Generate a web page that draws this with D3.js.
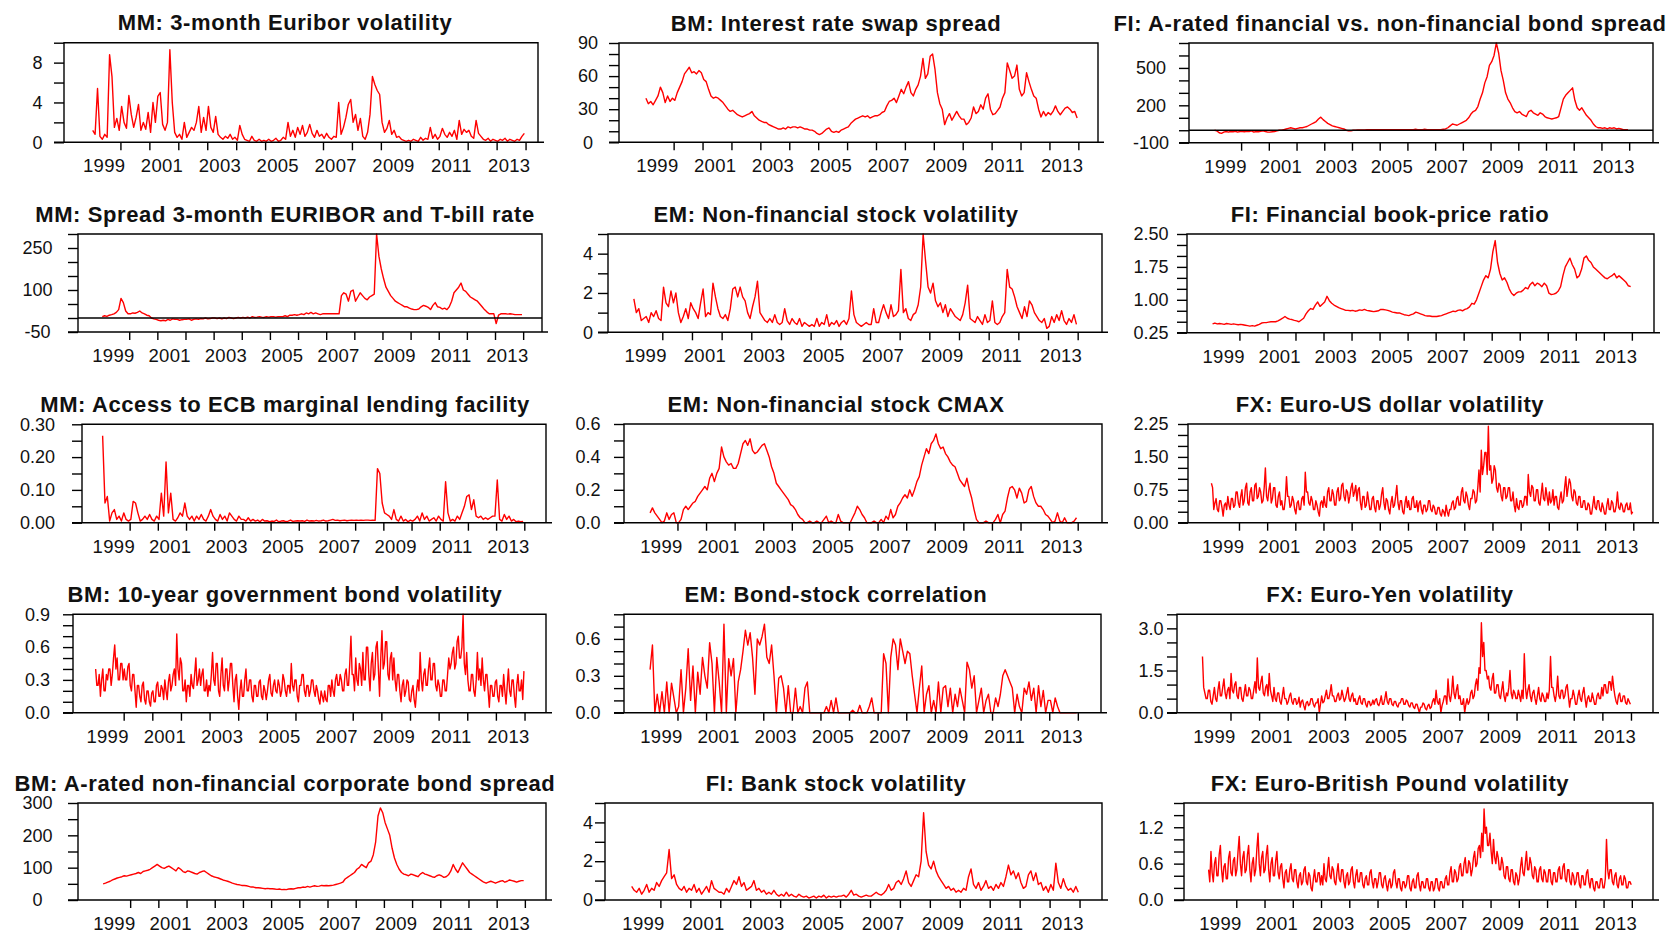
<!DOCTYPE html>
<html>
<head>
<meta charset="utf-8">
<script src="https://cdn.jsdelivr.net/npm/d3@7"></script>
<style>
  body { margin: 0; background: #fff; }
  svg { display: block; }
  text { font-family: "Liberation Sans", Arial, sans-serif; fill: #111; }
  .title { font-weight: bold; font-size: 22px; letter-spacing: 0.6px; }
  .ylab .tick text { font-size: 18px; }
  .xlab .tick text { font-size: 18.5px; letter-spacing: 0.3px; }
</style>
</head>
<body>
<svg id="chart"></svg>
<script>
// observations run Jan 1999 .. Dec 2013 (monthly, or twice a month for the noisier ones)
const startYear = 1999
const nYears = 15
const tickYears = d3.range(2000, 2015)
const labelYears = [1999, 2001, 2003, 2005, 2007, 2009, 2011, 2013]

const titles = [
  'MM: 3-month Euribor volatility',
  'BM: Interest rate swap spread',
  'FI: A-rated financial vs. non-financial bond spread',
  'MM: Spread 3-month EURIBOR and T-bill rate',
  'EM: Non-financial stock volatility',
  'FI: Financial book-price ratio',
  'MM: Access to ECB marginal lending facility',
  'EM: Non-financial stock CMAX',
  'FX: Euro-US dollar volatility',
  'BM: 10-year government bond volatility',
  'EM: Bond-stock correlation',
  'FX: Euro-Yen volatility',
  'BM: A-rated non-financial corporate bond spread',
  'FI: Bank stock volatility',
  'FX: Euro-British Pound volatility'
]

const euriborVol = [
  1.2, 0.8, 5.4, 0.6, 0.3, 0.8, 0.5, 8.8, 6.6, 1.5, 2.4, 1.2,
  3.6, 2.0, 1.4, 4.7, 2.8, 1.5, 2.5, 3.8, 1.2, 2.0, 1.3, 3.0,
  1.0, 4.0, 2.0, 4.6, 5.0, 1.8, 1.2, 2.0, 9.3, 4.0, 1.0, 0.5,
  0.8, 0.3, 2.0, 0.5, 1.0, 1.5, 1.2, 2.0, 3.6, 1.0, 2.5, 1.2,
  3.6, 1.5, 1.0, 2.6, 0.8, 0.5, 0.3, 0.6, 0.4, 0.8, 0.3, 0.5,
  0.2, 1.7, 0.8, 0.3, 0.2, 0.1, 0.6, 0.2, 0.1, 0.3, 0.1, 0.2,
  0.1, 0.3, 0.1, 0.2, 0.4, 0.1, 0.2, 0.5, 0.3, 2.0, 0.6, 1.2,
  0.5, 1.5, 0.8, 1.7, 0.6, 1.0, 1.8, 0.9, 0.5, 1.2, 0.6, 0.8,
  0.4, 0.9, 0.5, 0.3, 0.6, 0.5, 4.0, 0.8, 1.5, 2.5, 3.8, 4.3,
  2.0, 2.8, 1.2, 2.4, 0.6, 0.3, 1.0, 2.8, 6.6, 5.8, 5.2, 4.8,
  2.0, 1.0, 1.4, 2.2, 0.8, 1.2, 0.5, 0.6, 0.3, 0.2, 0.1, 0.2,
  0.1, 0.3, 0.2, 0.1, 0.5, 0.2, 0.4, 0.3, 1.5, 0.4, 0.8, 0.3,
  0.6, 1.4, 0.8, 0.5, 1.0, 0.6, 1.2, 0.3, 2.2, 0.8, 1.3, 1.0,
  1.2, 0.6, 0.4, 2.2, 0.9, 0.6, 0.3, 0.2, 0.4, 0.1, 0.3, 0.2,
  0.1, 0.3, 0.2, 0.4, 0.1, 0.3, 0.2, 0.1, 0.3, 0.2, 0.6, 0.9
]

const swapSpread = [
  40, 35, 37, 34, 38, 42, 50, 45, 36, 42, 37, 40,
  38, 45, 50, 55, 62, 65, 68, 63, 64, 62, 65, 63,
  57, 55, 48, 42, 40, 41, 40, 38, 36, 33, 30, 28,
  29, 27, 25, 24, 23, 24, 25, 26, 28, 24, 22, 20,
  19, 18, 18, 16, 15, 14, 13, 12, 12, 13, 12, 14,
  13, 14, 14, 13, 14, 13, 12, 12, 11, 11, 10, 8,
  7, 8, 10, 12, 13, 10, 9, 10, 9, 11, 12, 13,
  14, 17, 19, 21, 22, 23, 24, 23, 24, 22, 23, 24,
  24, 25, 27, 28, 33, 37, 38, 40, 36, 42, 48, 44,
  50, 55, 45, 42, 48, 52, 60, 76, 58, 62, 78, 80,
  66, 45, 35, 30, 16, 22, 26, 20, 24, 28, 24, 21,
  21, 16, 18, 22, 32, 26, 28, 34, 30, 40, 44, 30,
  25, 26, 29, 32, 40, 45, 72, 65, 58, 60, 70, 48,
  42, 45, 63, 55, 48, 42, 40, 30, 23, 28, 24, 27,
  25, 28, 33, 28, 25, 28, 31, 32, 30, 27, 28, 22
]

const finBondSpread = [
  0, -5, -20, -25, -15, -10, -15, -10, -12, -8, -15, -10,
  -10, -12, -8, -10, -5, -15, -10, -12, -8, -5, -10, -15,
  -15, -12, -10, -5, 0, 0, 5, 10, 15, 20, 15, 10,
  15, 20, 20, 25, 30, 40, 50, 60, 70, 90, 105, 85,
  70, 55, 45, 35, 30, 25, 20, 15, 10, 0, -5, -5,
  0, 0, 2, 3, 2, 3, 5, 5, 5, 5, 5, 5,
  5, 5, 5, 5, 5, 5, 5, 5, 5, 5, 5, 5,
  5, 5, 5, 8, 5, 5, 5, 8, 5, 5, 5, 5,
  5, 5, 5, 8, 10, 20, 35, 50, 45, 40, 50, 60,
  70, 80, 100, 130, 150, 160, 190, 250, 300, 380, 430, 520,
  550, 600, 700, 620, 480, 400, 300, 250, 220, 180, 150, 140,
  150, 130, 120, 110, 150, 160, 140, 130, 120, 140, 130, 110,
  100, 95, 90, 95, 100, 110, 180, 250, 280, 300, 320, 340,
  240, 180, 160, 180, 150, 120, 100, 80, 50, 30, 20, 20,
  15, 20, 10, 20, 15, 20, 10, 15, 10, 5, 5, 5
]

const euriborTbill = [
  5, 8, 6, 10, 12, 15, 20, 30, 70, 55, 25, 15,
  15, 18, 17, 20, 25, 18, 15, 10, 8, 0, -3, -5,
  -8, -10, -8, -10, -5, -8, -3, -5, -5, -8, -6, -5,
  -5, -3, -8, -5, -3, -5, -2, -3, 0, -3, -2, 0,
  0, -2, 0, -3, 0, -2, 2, 0, -2, 0, 2, 0,
  2, 0, 3, 0, 5, 2, 3, 5, 3, 2, 5, 3,
  5, 5, 3, 5, 5, 5, 8, 5, 10, 10, 12, 10,
  12, 15, 12, 18, 15, 20, 15, 18, 15, 12, 15, 15,
  15, 15, 15, 15, 15, 15, 80, 90, 85, 60, 95, 100,
  60, 75, 90, 80, 70, 65, 75, 80, 85, 300, 220, 175,
  140, 110, 95, 80, 70, 60, 55, 50, 45, 40, 40, 35,
  32, 30, 30, 32, 40, 45, 42, 38, 30, 45, 55, 40,
  38, 32, 35, 30, 40, 60, 90, 100, 110, 125, 100, 95,
  85, 75, 70, 65, 60, 50, 40, 30, 22, 15, 15, 15,
  -20, 10, 15, 15, 15, 14, 15, 14, 12, 12, 12, 12
]

const nonFinVol = [
  1.7, 1.0, 1.2, 0.6, 0.7, 0.8, 0.5, 1.0, 0.8, 1.1, 0.7, 0.6,
  2.3, 1.5, 1.3, 2.1, 1.5, 2.0, 1.0, 0.5, 0.8, 1.2, 0.7, 1.5,
  1.2, 1.0, 0.7, 1.5, 2.2, 0.8, 1.0, 0.9, 2.5, 1.8, 1.2, 0.8,
  0.7, 0.9, 0.6, 1.2, 2.2, 2.3, 1.8, 2.3, 1.8, 1.6, 1.0, 0.7,
  1.3, 1.8, 2.6, 1.0, 0.8, 0.6, 0.5, 0.7, 0.5, 0.9, 0.5, 0.4,
  0.5, 1.2, 0.6, 0.4, 0.7, 0.5, 0.4, 0.7, 0.3, 0.5, 0.4, 0.3,
  0.4, 0.3, 0.7, 0.3, 0.5, 0.4, 0.9, 0.3, 0.5, 0.4, 0.6, 0.3,
  0.5, 0.6, 0.4, 0.7, 2.1, 0.9, 0.5, 0.4, 0.3, 0.4, 0.5, 0.4,
  0.4, 1.2, 0.5, 0.5, 1.0, 1.4, 1.0, 0.7, 1.4, 0.8, 0.9, 1.1,
  3.2, 1.0, 1.2, 0.7, 0.6, 0.9, 1.0, 1.4, 2.3, 5.0, 3.6, 2.3,
  2.0, 2.5, 1.6, 1.3, 1.5, 1.0, 1.4, 0.8, 1.2, 1.0, 0.8, 0.7,
  0.6, 0.9, 1.5, 2.4, 0.7, 0.6, 0.5, 0.8, 0.6, 0.4, 0.9, 0.5,
  0.6, 1.6, 0.5, 0.4, 0.5, 0.8, 1.0, 3.2, 2.3, 2.2, 1.8, 1.3,
  1.0, 0.7, 1.3, 0.8, 1.6, 1.4, 1.0, 0.8, 0.6, 0.5, 0.7, 0.2,
  0.3, 0.8, 0.5, 0.9, 0.6, 1.1, 0.6, 0.4, 0.7, 0.5, 0.9, 0.4
]

const bookPrice = [
  0.45, 0.47, 0.45, 0.46, 0.45, 0.44, 0.46, 0.45, 0.44, 0.45, 0.44, 0.43,
  0.44, 0.43, 0.42, 0.41, 0.40, 0.41, 0.40, 0.42, 0.44, 0.47, 0.48, 0.48,
  0.49, 0.50, 0.50, 0.50, 0.52, 0.55, 0.58, 0.62, 0.58, 0.56, 0.55, 0.53,
  0.52, 0.50, 0.54, 0.58, 0.68, 0.75, 0.80, 0.78, 0.88, 0.95, 0.85, 0.90,
  0.95, 1.08, 0.98, 0.92, 0.88, 0.85, 0.82, 0.80, 0.78, 0.76, 0.76, 0.75,
  0.76, 0.74, 0.75, 0.77, 0.76, 0.78, 0.76, 0.75, 0.74, 0.73, 0.74, 0.75,
  0.78, 0.78, 0.77, 0.76, 0.74, 0.72, 0.71, 0.70, 0.70, 0.68, 0.66, 0.65,
  0.64, 0.66, 0.68, 0.72, 0.70, 0.68, 0.66, 0.64, 0.63, 0.63, 0.62, 0.62,
  0.62, 0.63, 0.64, 0.66, 0.68, 0.70, 0.72, 0.74, 0.73, 0.76, 0.77, 0.75,
  0.78, 0.80, 0.84, 0.92, 0.90, 1.00, 1.15, 1.30, 1.45, 1.55, 1.50, 1.70,
  2.10, 2.35, 1.85, 1.60, 1.45, 1.50, 1.40, 1.25, 1.15, 1.10, 1.15, 1.18,
  1.18, 1.22, 1.28, 1.25, 1.35, 1.40, 1.32, 1.38, 1.35, 1.30, 1.38, 1.32,
  1.15, 1.12, 1.13, 1.15, 1.20, 1.30, 1.55, 1.75, 1.85, 1.95, 1.80, 1.70,
  1.50, 1.55, 1.70, 1.95, 2.00, 1.90, 1.85, 1.75, 1.70, 1.65, 1.60, 1.55,
  1.50, 1.48, 1.52, 1.55, 1.60, 1.50, 1.55, 1.50, 1.45, 1.40, 1.32, 1.30
]

const ecbLending = [
  0.265, 0.06, 0.08, 0.005, 0.03, 0.04, 0.01, 0.02, 0.005, 0.03, 0.01, 0.005,
  0.01, 0.065, 0.06, 0.03, 0.005, 0.01, 0.02, 0.01, 0.025, 0.01, 0.005, 0.02,
  0.01, 0.09, 0.02, 0.185, 0.03, 0.09, 0.01, 0.005, 0.015, 0.03, 0.02, 0.06,
  0.02, 0.01, 0.02, 0.005, 0.02, 0.01, 0.025, 0.01, 0.005, 0.02, 0.04, 0.02,
  0.01, 0.005, 0.025, 0.01, 0.02, 0.005, 0.03, 0.02, 0.01, 0.005, 0.02, 0.01,
  0.01, 0.005, 0.015, 0.005, 0.01, 0.005, 0.008, 0.003, 0.01, 0.005, 0.006, 0.003,
  0.005, 0.004, 0.008, 0.003, 0.005, 0.006, 0.003, 0.005, 0.008, 0.004, 0.005, 0.006,
  0.005, 0.006, 0.004, 0.008, 0.005, 0.006, 0.005, 0.007, 0.005, 0.006, 0.008, 0.005,
  0.006, 0.008, 0.01, 0.007, 0.008, 0.006, 0.007, 0.008, 0.006, 0.007, 0.008, 0.007,
  0.008, 0.007, 0.008, 0.007, 0.008, 0.008, 0.007, 0.008, 0.007, 0.165, 0.15, 0.06,
  0.03, 0.025, 0.02, 0.01, 0.04, 0.01, 0.005, 0.02, 0.005, 0.01, 0.003, 0.008,
  0.005, 0.01, 0.02, 0.005, 0.03, 0.01, 0.02, 0.005, 0.01, 0.015, 0.005, 0.02,
  0.01, 0.005, 0.125, 0.03, 0.005, 0.01, 0.005, 0.02, 0.01, 0.03, 0.05, 0.08,
  0.085, 0.04, 0.07, 0.02, 0.015, 0.02, 0.01, 0.015, 0.01, 0.015, 0.02, 0.02,
  0.13, 0.01, 0.005, 0.025, 0.01, 0.02, 0.005, 0.01, 0.003, 0.005, 0.003, 0.004
]

const nonFinCmax = [
  0.06, 0.09, 0.06, 0.04, 0.02, 0.0, 0.01, 0.06, 0.02, 0.05, 0.06, 0.0,
  0.0, 0.02, 0.08, 0.1, 0.08, 0.1, 0.12, 0.13, 0.16, 0.18, 0.2, 0.22,
  0.2, 0.27, 0.3, 0.25, 0.3, 0.33, 0.46, 0.4, 0.37, 0.35, 0.36, 0.33,
  0.33, 0.36, 0.42, 0.48, 0.5, 0.47, 0.51, 0.44, 0.42, 0.43, 0.45, 0.47,
  0.48, 0.44, 0.4, 0.34, 0.3, 0.24, 0.22, 0.2, 0.18, 0.16, 0.14, 0.11,
  0.1, 0.08, 0.05, 0.03, 0.02, 0.0, 0.0, 0.01, 0.0, 0.0, 0.01, 0.0,
  0.0, 0.02, 0.04, 0.0, 0.01, 0.0, 0.0, 0.05, 0.01, 0.0, 0.0, 0.0,
  0.0, 0.03, 0.06, 0.1, 0.08, 0.05, 0.03, 0.0, 0.0, 0.0, 0.01, 0.0,
  0.0, 0.02, 0.0, 0.04, 0.02, 0.08, 0.03, 0.05, 0.1, 0.12, 0.15, 0.17,
  0.15, 0.2, 0.16, 0.2, 0.25, 0.28, 0.35, 0.4, 0.45, 0.42, 0.48, 0.5,
  0.54, 0.48, 0.45, 0.46, 0.42, 0.4, 0.37, 0.35, 0.34, 0.3, 0.26, 0.24,
  0.22, 0.27, 0.2, 0.15, 0.08, 0.02, 0.0, 0.0, 0.0, 0.01, 0.0, 0.0,
  0.0, 0.02, 0.05, 0.0, 0.05, 0.07, 0.15, 0.21, 0.22, 0.2, 0.15, 0.21,
  0.18, 0.12, 0.13, 0.2, 0.22, 0.16, 0.12, 0.1, 0.1, 0.08, 0.05, 0.04,
  0.02, 0.0, 0.01, 0.06, 0.01, 0.0, 0.03, 0.0, 0.0, 0.0, 0.01, 0.03
]

// twice a month
const usdVol = [
  0.9, 0.8, 0.3, 0.45, 0.55, 0.3, 0.25, 0.5, 0.5, 0.35, 0.15, 0.4, 0.45, 0.3, 0.6, 0.4, 0.3, 0.55, 0.55, 0.35, 0.4, 0.7, 0.7, 0.45,
  0.35, 0.6, 0.75, 0.4, 0.5, 0.8, 0.9, 0.45, 0.4, 0.7, 0.8, 0.5, 0.5, 0.85, 0.9, 0.55, 0.6, 0.8, 0.7, 0.45, 0.5, 0.8, 1.25, 0.6,
  0.5, 0.75, 0.9, 0.45, 0.55, 0.8, 0.8, 0.4, 0.35, 0.6, 0.7, 0.4, 0.5, 0.3, 0.3, 0.55, 1.05, 0.6, 0.6, 0.35, 0.4, 0.6, 0.5, 0.3,
  0.2, 0.45, 0.5, 0.3, 0.3, 0.55, 0.6, 0.4, 1.15, 0.7, 0.7, 0.45, 0.4, 0.6, 0.5, 0.3, 0.3, 0.5, 0.4, 0.25, 0.15, 0.45, 0.5, 0.35,
  0.6, 0.4, 0.35, 0.7, 0.8, 0.5, 0.5, 0.75, 0.65, 0.4, 0.4, 0.7, 0.8, 0.5, 0.55, 0.85, 0.9, 0.6, 0.5, 0.75, 0.7, 0.45, 0.6, 0.8,
  0.9, 0.6, 0.7, 0.85, 0.5, 0.75, 0.8, 0.45, 0.3, 0.6, 0.6, 0.35, 0.4, 0.7, 0.5, 0.3, 0.3, 0.55, 0.6, 0.35, 0.25, 0.5, 0.5, 0.3,
  0.4, 0.65, 0.8, 0.45, 0.3, 0.55, 0.5, 0.3, 0.2, 0.45, 0.6, 0.35, 0.4, 0.6, 0.85, 0.45, 0.3, 0.5, 0.5, 0.25, 0.2, 0.45, 0.6, 0.35,
  0.5, 0.3, 0.3, 0.55, 0.6, 0.35, 0.35, 0.5, 0.25, 0.45, 0.5, 0.3, 0.2, 0.4, 0.4, 0.25, 0.3, 0.5, 0.5, 0.3, 0.25, 0.4, 0.35, 0.2,
  0.2, 0.35, 0.35, 0.2, 0.15, 0.3, 0.25, 0.15, 0.4, 0.25, 0.15, 0.3, 0.3, 0.45, 0.5, 0.3, 0.35, 0.55, 0.6, 0.4, 0.4, 0.7, 0.8, 0.5,
  0.45, 0.7, 0.6, 0.4, 0.3, 0.55, 0.55, 0.75, 0.7, 0.45, 0.5, 0.8, 1.2, 0.7, 1.65, 1.1, 1.3, 1.6, 1.6, 1.1, 2.2, 1.2, 1.3, 0.9,
  1.0, 1.3, 1.2, 0.8, 0.7, 0.9, 0.85, 0.6, 0.5, 0.8, 0.8, 0.55, 0.6, 0.8, 0.8, 0.5, 0.5, 0.7, 0.4, 0.25, 0.55, 0.35, 0.3, 0.5,
  0.5, 0.35, 0.4, 0.6, 0.6, 0.4, 1.1, 0.7, 0.6, 0.85, 0.8, 0.5, 0.5, 0.75, 0.75, 0.45, 0.4, 0.65, 0.9, 0.55, 0.5, 0.8, 0.6, 0.4,
  0.7, 0.45, 0.5, 0.75, 0.4, 0.6, 0.6, 0.35, 0.3, 0.55, 0.7, 0.45, 0.5, 0.8, 1.05, 0.6, 0.8, 1.0, 0.9, 0.6, 0.5, 0.75, 0.7, 0.45,
  0.4, 0.6, 0.6, 0.35, 0.35, 0.5, 0.5, 0.3, 0.3, 0.45, 0.4, 0.2, 0.2, 0.4, 0.6, 0.35, 0.3, 0.5, 0.5, 0.3, 0.25, 0.45, 0.35, 0.2,
  0.2, 0.4, 0.55, 0.3, 0.3, 0.5, 0.45, 0.25, 0.25, 0.4, 0.7, 0.35, 0.3, 0.45, 0.4, 0.25, 0.25, 0.4, 0.45, 0.3, 0.3, 0.45, 0.2, 0.25
]

// twice a month
const govBondVol = [
  0.4, 0.25, 0.25, 0.35, 0.15, 0.3, 0.4, 0.2, 0.2, 0.35, 0.3, 0.4, 0.4, 0.25, 0.35, 0.5, 0.62, 0.4, 0.5, 0.3, 0.3, 0.45, 0.45, 0.3,
  0.4, 0.3, 0.3, 0.42, 0.45, 0.25, 0.2, 0.35, 0.35, 0.2, 0.05, 0.25, 0.25, 0.15, 0.1, 0.25, 0.28, 0.12, 0.08, 0.2, 0.2, 0.1, 0.06, 0.18,
  0.2, 0.1, 0.1, 0.25, 0.28, 0.15, 0.15, 0.25, 0.22, 0.12, 0.3, 0.2, 0.12, 0.28, 0.35, 0.2, 0.25, 0.35, 0.4, 0.25, 0.72, 0.4, 0.3, 0.5,
  0.45, 0.2, 0.2, 0.3, 0.1, 0.25, 0.25, 0.15, 0.35, 0.25, 0.22, 0.35, 0.5, 0.25, 0.3, 0.4, 0.25, 0.35, 0.4, 0.2, 0.2, 0.3, 0.15, 0.25,
  0.2, 0.35, 0.55, 0.3, 0.25, 0.45, 0.45, 0.2, 0.15, 0.35, 0.5, 0.25, 0.2, 0.4, 0.4, 0.2, 0.3, 0.45, 0.45, 0.25, 0.1, 0.3, 0.35, 0.15,
  0.03, 0.2, 0.3, 0.15, 0.15, 0.3, 0.4, 0.2, 0.2, 0.3, 0.3, 0.15, 0.1, 0.25, 0.25, 0.15, 0.15, 0.28, 0.3, 0.15, 0.12, 0.25, 0.2, 0.12,
  0.2, 0.3, 0.35, 0.18, 0.15, 0.25, 0.3, 0.2, 0.18, 0.3, 0.25, 0.15, 0.2, 0.35, 0.3, 0.2, 0.15, 0.25, 0.25, 0.18, 0.45, 0.25, 0.2, 0.3,
  0.3, 0.15, 0.1, 0.25, 0.25, 0.35, 0.35, 0.2, 0.15, 0.25, 0.25, 0.15, 0.2, 0.3, 0.3, 0.2, 0.15, 0.25, 0.2, 0.12, 0.08, 0.2, 0.15, 0.1,
  0.2, 0.12, 0.1, 0.25, 0.25, 0.15, 0.3, 0.2, 0.15, 0.3, 0.35, 0.25, 0.25, 0.35, 0.3, 0.2, 0.2, 0.35, 0.4, 0.25, 0.25, 0.45, 0.7, 0.35,
  0.35, 0.2, 0.5, 0.3, 0.25, 0.45, 0.4, 0.25, 0.55, 0.3, 0.3, 0.6, 0.6, 0.35, 0.2, 0.45, 0.55, 0.3, 0.35, 0.6, 0.65, 0.4, 0.15, 0.5,
  0.75, 0.4, 0.45, 0.65, 0.65, 0.35, 0.3, 0.5, 0.55, 0.3, 0.5, 0.3, 0.2, 0.35, 0.35, 0.2, 0.1, 0.25, 0.3, 0.15, 0.2, 0.3, 0.28, 0.12,
  0.1, 0.2, 0.25, 0.12, 0.05, 0.2, 0.3, 0.2, 0.55, 0.3, 0.2, 0.35, 0.4, 0.25, 0.25, 0.4, 0.5, 0.3, 0.3, 0.45, 0.45, 0.25, 0.2, 0.3,
  0.25, 0.15, 0.15, 0.3, 0.3, 0.2, 0.2, 0.35, 0.5, 0.4, 0.45, 0.55, 0.6, 0.4, 0.45, 0.65, 0.7, 0.5, 0.5, 0.6, 0.9, 0.45, 0.35, 0.55,
  0.3, 0.2, 0.2, 0.35, 0.35, 0.2, 0.15, 0.3, 0.55, 0.3, 0.4, 0.25, 0.5, 0.3, 0.2, 0.35, 0.35, 0.2, 0.05, 0.25, 0.25, 0.15, 0.15, 0.28,
  0.3, 0.15, 0.1, 0.25, 0.25, 0.15, 0.35, 0.2, 0.08, 0.25, 0.4, 0.2, 0.15, 0.3, 0.3, 0.15, 0.05, 0.25, 0.35, 0.2, 0.2, 0.3, 0.12, 0.38
]

const bondStockCorr = [
  0.35, 0.55, 0.0, 0.15, 0.0, 0.17, 0.0, 0.25, 0.0, 0.24, 0.12, 0.0,
  0.05, 0.35, 0.0, 0.2, 0.52, 0.1, 0.38, 0.0, 0.33, 0.15, 0.45, 0.3,
  0.2, 0.57, 0.4, 0.0, 0.45, 0.25, 0.0, 0.72, 0.0, 0.44, 0.3, 0.44,
  0.0, 0.25, 0.35, 0.5, 0.67, 0.55, 0.65, 0.45, 0.15, 0.6, 0.55, 0.62,
  0.72, 0.45, 0.4, 0.55, 0.3, 0.0, 0.28, 0.3, 0.2, 0.0, 0.22, 0.0,
  0.0, 0.2, 0.0, 0.05, 0.0, 0.2, 0.25, 0.0, 0.0, 0.0, 0.0, 0.0,
  0.0, 0.0, 0.05, 0.0, 0.1, 0.0, 0.12, 0.0, 0.0, 0.0, 0.0, 0.0,
  0.0, 0.02, 0.0, 0.0, 0.06, 0.0, 0.0, 0.0, 0.05, 0.12, 0.0, 0.0,
  0.0, 0.0, 0.48, 0.4, 0.0, 0.45, 0.6, 0.55, 0.35, 0.6, 0.5, 0.4,
  0.5, 0.48, 0.3, 0.15, 0.0, 0.2, 0.38, 0.0, 0.15, 0.22, 0.0, 0.1,
  0.0, 0.25, 0.0, 0.2, 0.22, 0.05, 0.2, 0.0, 0.15, 0.05, 0.2, 0.1,
  0.0, 0.41, 0.35, 0.2, 0.3, 0.0, 0.1, 0.2, 0.0, 0.1, 0.15, 0.0,
  0.0, 0.12, 0.05, 0.15, 0.3, 0.35, 0.3, 0.25, 0.2, 0.0, 0.15, 0.05,
  0.0, 0.2, 0.15, 0.25, 0.1, 0.2, 0.0, 0.22, 0.05, 0.18, 0.0, 0.1,
  0.1, 0.0, 0.12, 0.05, 0.0, 0.0, 0.0, 0.0, 0.0, 0.0, 0.0, 0.0
]

// twice a month
const yenVol = [
  2.0, 0.9, 0.7, 0.5, 0.5, 0.8, 0.8, 0.4, 0.3, 0.6, 0.9, 0.5, 0.4, 0.8, 1.1, 0.6, 0.6, 0.9, 1.2, 0.7, 0.5, 0.8, 0.9, 0.5,
  1.4, 0.8, 0.7, 1.0, 1.1, 0.6, 0.5, 0.9, 0.9, 0.5, 0.4, 0.7, 1.0, 0.6, 0.6, 0.9, 0.8, 0.5, 0.5, 0.8, 1.1, 0.7, 1.95, 0.9,
  0.8, 1.1, 1.3, 0.7, 0.6, 0.9, 1.0, 0.6, 1.4, 0.8, 0.6, 0.4, 0.9, 0.5, 0.4, 0.7, 0.7, 0.4, 0.3, 0.6, 0.9, 0.5, 0.5, 0.3,
  0.4, 0.6, 0.7, 0.4, 0.3, 0.5, 0.5, 0.3, 0.35, 0.55, 0.2, 0.4, 0.45, 0.25, 0.1, 0.35, 0.4, 0.25, 0.3, 0.5, 0.5, 0.3, 0.2, 0.35,
  0.35, 0.5, 0.0, 0.3, 0.6, 0.35, 0.4, 0.6, 0.8, 0.5, 0.5, 0.7, 1.0, 0.6, 0.6, 0.4, 0.4, 0.6, 0.7, 0.45, 0.5, 0.8, 0.6, 0.4,
  0.5, 0.7, 0.9, 0.5, 0.4, 0.6, 0.7, 0.4, 0.5, 0.3, 0.3, 0.5, 0.6, 0.35, 0.3, 0.5, 0.5, 0.3, 0.2, 0.4, 0.4, 0.25, 0.3, 0.45,
  0.3, 0.45, 0.5, 0.3, 0.25, 0.4, 0.6, 0.3, 0.3, 0.5, 0.75, 0.4, 0.3, 0.5, 0.5, 0.3, 0.25, 0.4, 0.4, 0.25, 0.2, 0.35, 0.35, 0.5,
  0.5, 0.3, 0.3, 0.45, 0.4, 0.25, 0.2, 0.35, 0.35, 0.2, 0.15, 0.3, 0.3, 0.15, 0.0, 0.2, 0.2, 0.35, 0.3, 0.15, 0.1, 0.25, 0.3, 0.15,
  0.2, 0.4, 0.5, 0.3, 0.8, 0.4, 0.3, 0.5, 0.0, 0.25, 0.4, 0.6, 0.6, 0.3, 1.2, 0.6, 0.4, 0.7, 1.3, 0.7, 0.5, 0.8, 1.0, 0.5,
  0.6, 0.3, 0.3, 0.5, 0.0, 0.3, 0.5, 0.3, 0.4, 0.7, 0.8, 0.5, 0.6, 1.0, 1.2, 0.8, 1.6, 1.4, 3.2, 2.0, 2.5, 1.5, 1.5, 1.2,
  1.3, 0.9, 0.8, 1.2, 1.4, 0.7, 0.7, 1.0, 1.0, 0.6, 0.5, 0.8, 1.1, 0.6, 0.4, 0.7, 0.6, 0.9, 1.5, 0.7, 0.5, 0.8, 0.7, 0.5,
  0.5, 0.8, 0.6, 0.4, 0.8, 0.5, 2.1, 0.9, 0.5, 0.8, 1.0, 0.6, 0.4, 0.7, 0.8, 0.5, 0.3, 0.6, 0.9, 0.5, 0.4, 0.7, 0.6, 0.4,
  0.4, 0.7, 0.5, 0.8, 2.0, 0.9, 0.9, 0.6, 0.4, 0.7, 1.3, 0.6, 0.5, 0.8, 0.8, 0.5, 0.6, 0.9, 1.0, 0.6, 0.2, 0.5, 0.5, 0.8,
  0.6, 0.3, 0.3, 0.6, 0.8, 0.5, 0.4, 0.7, 0.9, 0.5, 0.2, 0.5, 0.6, 0.4, 0.4, 0.7, 0.5, 0.3, 0.3, 0.6, 0.7, 0.5, 0.5, 0.9,
  0.6, 1.0, 1.0, 0.7, 0.7, 1.1, 1.1, 0.8, 1.3, 0.9, 0.6, 0.4, 0.3, 0.6, 0.7, 0.4, 0.4, 0.6, 0.6, 0.35, 0.3, 0.5, 0.4, 0.3
]

const corpBondSpread = [
  50, 52, 55, 58, 62, 65, 68, 70, 72, 75, 74, 76,
  78, 80, 82, 85, 82, 88, 90, 92, 95, 100, 105, 110,
  105, 100, 98, 102, 105, 100, 95, 90, 100, 95, 88, 85,
  90, 88, 85, 82, 80, 85, 88, 90, 85, 80, 75, 72,
  70, 68, 65, 62, 60, 58, 55, 52, 50, 48, 47, 45,
  45, 44, 42, 40, 40, 38, 38, 37, 36, 35, 36, 35,
  35, 34, 33, 34, 32, 33, 32, 34, 35, 34, 36, 38,
  38, 40, 39, 42, 40, 42, 44, 42, 43, 45, 44, 45,
  44, 45, 46, 48, 50, 52, 55, 65, 70, 75, 80, 85,
  95, 100, 110, 105, 100, 115, 120, 140, 180, 260, 285, 270,
  240, 220, 200, 160, 130, 110, 95, 85, 80, 78, 75, 80,
  78, 75, 72, 80, 85, 80, 78, 75, 72, 70, 75, 78,
  75, 70, 72, 78, 90, 110, 95, 85, 100, 115, 105, 95,
  85, 80, 75, 70, 65, 60, 55, 52, 55, 58, 55, 52,
  55, 58, 60, 55, 58, 62, 60, 58, 55, 58, 60, 60
]

const bankVol = [
  0.7, 0.5, 0.4, 0.6, 0.3, 0.5, 0.8, 0.4, 0.6, 0.5, 0.9, 0.7,
  1.0, 1.2, 1.4, 2.6, 1.1, 1.3, 0.8, 0.6, 0.5, 0.7, 0.4, 0.6,
  0.5, 0.8, 0.4, 0.6, 0.3, 0.5, 0.7, 0.4, 1.0, 0.6, 0.5, 0.4,
  0.4, 0.3, 0.6, 0.4, 0.7, 1.0, 0.8, 1.2, 0.7, 0.9, 0.5, 0.6,
  0.7, 1.0, 0.5, 0.6, 0.4, 0.5, 0.3, 0.4, 0.3, 0.5, 0.3, 0.2,
  0.3, 0.2, 0.4, 0.2, 0.3, 0.2, 0.15, 0.3, 0.2, 0.15, 0.2, 0.1,
  0.15, 0.2, 0.1, 0.2, 0.15, 0.25, 0.1, 0.2, 0.15, 0.2, 0.15, 0.2,
  0.2, 0.25, 0.15, 0.3, 0.5, 0.25, 0.3, 0.2, 0.15, 0.2, 0.25, 0.2,
  0.2, 0.3, 0.4, 0.3, 0.25, 0.35, 0.5, 0.8, 0.5, 0.6, 0.9, 1.0,
  0.8, 1.1, 1.5, 0.9, 0.7, 1.0, 1.3, 1.2, 2.0, 4.5, 2.5, 1.8,
  1.6, 2.0, 1.5, 1.2, 1.0, 0.8, 0.6, 0.7, 0.5, 0.6, 0.4, 0.5,
  0.4, 0.6, 0.5, 1.2, 1.6, 0.8, 0.6, 0.9, 0.5, 0.7, 1.0, 0.6,
  0.7, 0.5, 0.8, 0.6, 0.9, 0.7, 1.2, 1.8, 1.3, 1.5, 1.1, 1.4,
  0.9, 0.6, 0.7, 1.3, 1.5, 1.0, 1.4, 0.8, 0.9, 0.5, 0.7, 0.4,
  0.8, 0.5, 1.9, 0.9, 0.6, 1.1, 0.7, 0.5, 0.6, 0.4, 0.7, 0.4
]

// twice a month
const gbpVol = [
  0.5, 0.3, 0.8, 0.45, 0.3, 0.6, 0.7, 0.4, 0.4, 0.75, 0.9, 0.5, 0.3, 0.55, 0.6, 0.35, 0.35, 0.7, 0.8, 0.45, 0.4, 0.65, 0.7, 0.4,
  0.5, 0.8, 1.05, 0.6, 0.4, 0.7, 0.8, 0.45, 0.5, 0.75, 0.9, 0.5, 0.3, 0.6, 0.7, 0.4, 0.5, 0.85, 1.1, 0.6, 0.4, 0.7, 0.8, 0.45,
  0.5, 0.75, 0.9, 0.5, 0.3, 0.6, 0.7, 0.4, 0.4, 0.65, 0.8, 0.45, 0.35, 0.55, 0.6, 0.35, 0.2, 0.45, 0.5, 0.3, 0.3, 0.5, 0.6, 0.35,
  0.3, 0.5, 0.5, 0.3, 0.2, 0.4, 0.45, 0.25, 0.3, 0.5, 0.55, 0.3, 0.25, 0.45, 0.4, 0.2, 0.15, 0.35, 0.5, 0.3, 0.3, 0.45, 0.45, 0.25,
  0.4, 0.25, 0.6, 0.35, 0.3, 0.5, 0.7, 0.4, 0.35, 0.55, 0.5, 0.3, 0.25, 0.45, 0.6, 0.35, 0.3, 0.5, 0.5, 0.3, 0.2, 0.4, 0.45, 0.25,
  0.3, 0.5, 0.55, 0.3, 0.2, 0.4, 0.5, 0.3, 0.3, 0.45, 0.45, 0.25, 0.2, 0.35, 0.4, 0.25, 0.25, 0.45, 0.5, 0.3, 0.2, 0.35, 0.35, 0.2,
  0.3, 0.45, 0.45, 0.25, 0.2, 0.35, 0.4, 0.25, 0.15, 0.3, 0.35, 0.2, 0.25, 0.45, 0.5, 0.3, 0.2, 0.35, 0.35, 0.2, 0.15, 0.3, 0.3, 0.2,
  0.25, 0.4, 0.4, 0.2, 0.15, 0.3, 0.35, 0.2, 0.2, 0.4, 0.45, 0.25, 0.15, 0.3, 0.3, 0.2, 0.2, 0.35, 0.35, 0.2, 0.15, 0.3, 0.3, 0.15,
  0.2, 0.35, 0.35, 0.2, 0.15, 0.3, 0.3, 0.2, 0.2, 0.35, 0.4, 0.25, 0.25, 0.45, 0.55, 0.3, 0.3, 0.5, 0.45, 0.3, 0.35, 0.55, 0.6, 0.4,
  0.4, 0.6, 0.7, 0.45, 0.45, 0.65, 0.6, 0.4, 0.5, 0.7, 0.8, 0.55, 0.6, 0.85, 0.9, 0.7, 1.1, 0.8, 1.5, 1.1, 1.2, 0.9, 0.9, 1.1,
  0.8, 0.6, 1.0, 0.7, 0.6, 0.8, 0.7, 0.5, 0.5, 0.7, 0.6, 0.4, 0.35, 0.55, 0.55, 0.35, 0.3, 0.5, 0.5, 0.3, 0.25, 0.45, 0.4, 0.25,
  0.35, 0.55, 0.7, 0.45, 0.4, 0.6, 0.8, 0.5, 0.5, 0.7, 0.6, 0.4, 0.35, 0.55, 0.5, 0.3, 0.3, 0.5, 0.55, 0.35, 0.3, 0.5, 0.45, 0.3,
  0.3, 0.5, 0.5, 0.3, 0.25, 0.45, 0.45, 0.3, 0.3, 0.5, 0.55, 0.35, 0.35, 0.55, 0.6, 0.35, 0.3, 0.5, 0.5, 0.3, 0.25, 0.45, 0.4, 0.25,
  0.3, 0.45, 0.45, 0.25, 0.2, 0.4, 0.4, 0.25, 0.25, 0.45, 0.5, 0.3, 0.2, 0.35, 0.35, 0.2, 0.15, 0.3, 0.3, 0.2, 0.2, 0.35, 0.35, 0.2,
  0.2, 0.35, 1.0, 0.5, 0.35, 0.5, 0.5, 0.3, 0.25, 0.4, 0.45, 0.25, 0.2, 0.35, 0.4, 0.25, 0.25, 0.4, 0.35, 0.2, 0.2, 0.3, 0.3, 0.25
]

// y-axis tick labels as printed
const euriborVolLabels = ['0', '4', '8']
const swapSpreadLabels = ['0', '30', '60', '90']
const finBondSpreadLabels = ['-100', '200', '500']
const euriborTbillLabels = ['-50', '100', '250']
const nonFinVolLabels = ['0', '2', '4']
const bookPriceLabels = ['0.25', '1.00', '1.75', '2.50']
const ecbLendingLabels = ['0.00', '0.10', '0.20', '0.30']
const nonFinCmaxLabels = ['0.0', '0.2', '0.4', '0.6']
const usdVolLabels = ['0.00', '0.75', '1.50', '2.25']
const govBondVolLabels = ['0.0', '0.3', '0.6', '0.9']
const bondStockCorrLabels = ['0.0', '0.3', '0.6']
const yenVolLabels = ['0.0', '1.5', '3.0']
const corpBondSpreadLabels = ['0', '100', '200', '300']
const bankVolLabels = ['0', '2', '4']
const gbpVolLabels = ['0.0', '0.6', '1.2']

const panels = [
  { values: euriborVol, labels: euriborVolLabels, min: 0, max: 10, step: 2 },
  { values: swapSpread, labels: swapSpreadLabels, min: 0, max: 90, step: 10 },
  { values: finBondSpread, labels: finBondSpreadLabels, min: -100, max: 700, step: 100, zero: true },
  { values: euriborTbill, labels: euriborTbillLabels, min: -50, max: 300, step: 50, zero: true },
  { values: nonFinVol, labels: nonFinVolLabels, min: 0, max: 5, step: 1 },
  { values: bookPrice, labels: bookPriceLabels, min: 0.25, max: 2.5, step: 0.25 },
  { values: ecbLending, labels: ecbLendingLabels, min: 0, max: 0.3, step: 0.05 },
  { values: nonFinCmax, labels: nonFinCmaxLabels, min: 0, max: 0.6, step: 0.1 },
  { values: usdVol, labels: usdVolLabels, min: 0, max: 2.25, step: 0.25 },
  { values: govBondVol, labels: govBondVolLabels, min: 0, max: 0.9, step: 0.1 },
  { values: bondStockCorr, labels: bondStockCorrLabels, min: 0, max: 0.8, step: 0.1 },
  { values: yenVol, labels: yenVolLabels, min: 0, max: 3.5, step: 0.5 },
  { values: corpBondSpread, labels: corpBondSpreadLabels, min: 0, max: 300, step: 50 },
  { values: bankVol, labels: bankVolLabels, min: 0, max: 5, step: 1 },
  { values: gbpVol, labels: gbpVolLabels, min: 0, max: 1.6, step: 0.2 }
]

// plot boxes: left, right, top, bottom; and the time span each box covers
const boxes = [
  [64, 538, 42.7, 142.3], [619, 1098, 43, 142.3], [1189, 1653, 43, 142.7],
  [78, 542, 234, 332], [608, 1102, 234, 332.3], [1187, 1654, 234, 332.7],
  [82, 546, 424.3, 522.7], [624, 1102, 424, 522.7], [1188, 1653, 424, 522.7],
  [73, 546, 614.3, 712.7], [624, 1101, 614.3, 712.7], [1177, 1653, 614.3, 712.7],
  [78, 546, 803, 900], [605, 1102, 803, 900], [1184, 1653, 803, 900]
]
const spans = [
  [1998.05, 2014.43], [1998.11, 2014.68], [1998.12, 2014.86],
  [1998.18, 2014.67], [1998.17, 2014.82], [1998.13, 2014.79],
  [1998.31, 2014.77], [1998.13, 2014.85], [1998.19, 2014.70],
  [1998.23, 2014.75], [1998.13, 2014.81], [1998.13, 2014.77],
  [1998.15, 2014.75], [1998.15, 2014.75], [1998.15, 2014.75]
]
const titleX = [285, 836, 1390]
const yLabelX = [37.5, 588, 1151]

const svg = d3.select('#chart')
    .attr('width', 1671)
    .attr('height', 935)

panels.forEach((p, i) => {
    const [l, r, t, b] = boxes[i]
    const col = i % 3

    const x = d3.scaleLinear().domain(spans[i]).range([l, r])
    const y = d3.scaleLinear().domain([p.min, p.max]).range([b, t])
    const g = svg.append('g')

    g.append('text')
        .attr('class', 'title')
        .attr('x', titleX[col])
        .attr('y', t - 12.3)
        .attr('text-anchor', 'middle')
        .text(titles[i])

    // y axis: every tick drawn, only some labelled
    const n = Math.round((p.max - p.min) / p.step)
    const yTicks = d3.range(n + 1).map(k => p.min + k * p.step)
    const labelVals = p.labels.map(Number)
    const yAxis = d3.axisLeft(y)
        .tickValues(yTicks)
        .tickSize(10)
        .tickFormat(d => {
            const k = labelVals.findIndex(v => Math.abs(v - d) < 1e-9)
            return k < 0 ? '' : p.labels[k]
        })
    const ya = g.append('g').attr('class', 'ylab')
        .attr('transform', 'translate(' + l + ',0)').call(yAxis)
    ya.select('.domain').remove()
    ya.selectAll('.tick line').attr('stroke', '#000').attr('stroke-width', 1.4)
    ya.selectAll('.tick text')
        .attr('x', yLabelX[col] - l)
        .attr('text-anchor', 'middle')

    // x axis ticks at year starts, labels in between
    const xa = g.append('g').attr('transform', 'translate(0,' + b + ')')
        .call(d3.axisBottom(x).tickValues(tickYears).tickSize(8).tickFormat(''))
    xa.select('.domain').remove()
    xa.selectAll('.tick line').attr('stroke', '#000').attr('stroke-width', 1.4)

    const xl = g.append('g').attr('class', 'xlab').attr('transform', 'translate(0,' + b + ')')
        .call(d3.axisBottom(x)
            .tickValues(labelYears.map(v => v + 0.42))
            .tickSize(0)
            .tickPadding(17)
            .tickFormat(d => Math.floor(d)))
    xl.select('.domain').remove()

    // series
    const perYear = p.values.length / nYears
    const line = d3.line()
        .x((d, k) => x(startYear + (k + 0.5) / perYear))
        .y(d => y(d))
    g.append('path')
        .datum(p.values)
        .attr('d', line)
        .attr('fill', 'none')
        .attr('stroke', '#ff0000')
        .attr('stroke-width', 1.4)
        .attr('stroke-linejoin', 'round')

    if (p.zero) {
        g.append('line')
            .attr('x1', l).attr('x2', r)
            .attr('y1', y(0)).attr('y2', y(0))
            .attr('stroke', '#000')
            .attr('stroke-width', 1.4)
    }

    // frame
    g.append('path')
        .attr('d', 'M' + l + ',' + b + 'V' + t + 'H' + r + 'V' + b)
        .attr('fill', 'none')
        .attr('stroke', '#000')
        .attr('stroke-width', 1.4)
    g.append('line')
        .attr('x1', l - 10).attr('x2', r + 6)
        .attr('y1', b).attr('y2', b)
        .attr('stroke', '#000')
        .attr('stroke-width', 1.4)
})
</script>
</body>
</html>
